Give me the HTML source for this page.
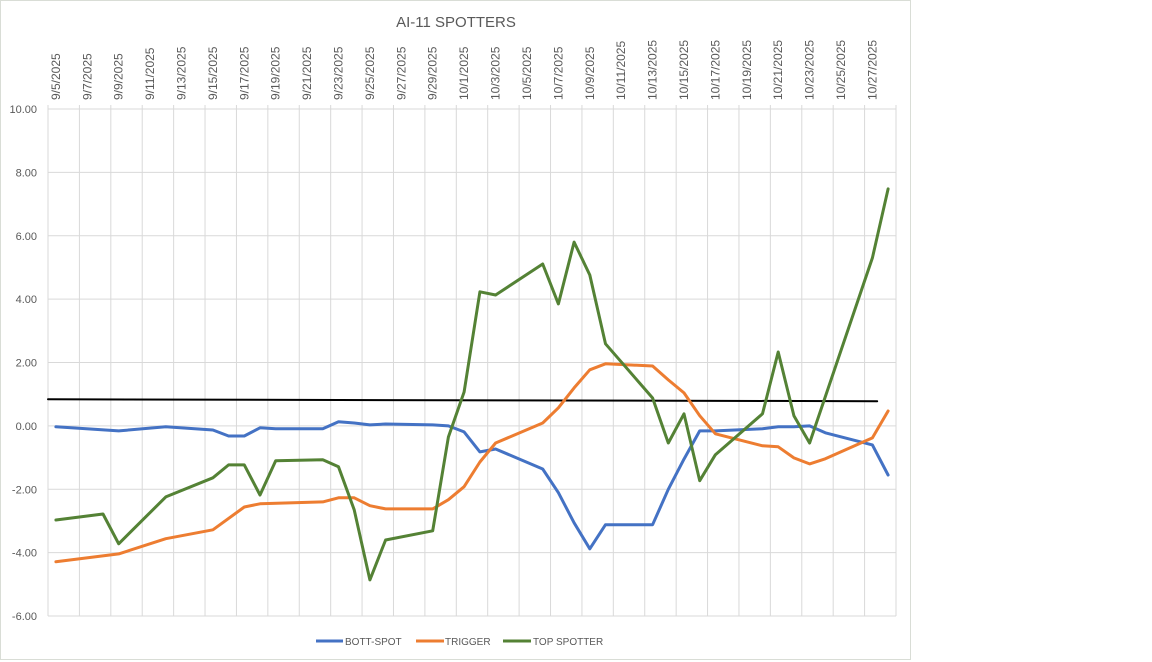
<!DOCTYPE html>
<html><head><meta charset="utf-8"><style>
html,body{margin:0;padding:0;background:#fff;}
svg{display:block;font-family:"Liberation Sans",sans-serif;}
</style></head><body>
<svg id="c" width="1152" height="662">
<rect x="0.5" y="0.5" width="910" height="659" fill="#fff" stroke="#d9ddd6"/>
<text x="456" y="27" font-size="15" text-anchor="middle" fill="#595959">AI-11 SPOTTERS</text>
<g id="grid"></g>
<g id="yl"></g>
<g id="xl"></g>
<g id="series"></g>
<g>
<g><line x1="316" y1="641" x2="343" y2="641" stroke="#4472c4" stroke-width="3"/><text x="345" y="645" font-size="10" fill="#595959">BOTT-SPOT</text></g>
<g><line x1="416" y1="641" x2="444" y2="641" stroke="#ed7d31" stroke-width="3"/><text x="445" y="645" font-size="10" fill="#595959">TRIGGER</text></g>
<g><line x1="503" y1="641" x2="531" y2="641" stroke="#548235" stroke-width="3"/><text x="533" y="645" font-size="10" fill="#595959">TOP SPOTTER</text></g>
</g>
</svg>
<script>
const startDate = [2025, 9, 5];
const dayCount = 54;
const yTicks = [10, 8, 6, 4, 2, 0, -2, -4, -6];
const bottSpot = [[0,-0.03],[4,-0.16],[7,-0.03],[10,-0.13],[11,-0.32],[12,-0.32],[13,-0.06],[14,-0.09],[17,-0.09],[18,0.13],[19,0.09],[20,0.03],[21,0.06],[24,0.03],[25,0.0],[26,-0.19],[27,-0.82],[28,-0.73],[31,-1.36],[32,-2.11],[33,-3.06],[34,-3.88],[35,-3.12],[38,-3.12],[39,-2.0],[40,-1.05],[41,-0.16],[42,-0.16],[45,-0.09],[46,-0.03],[47,-0.03],[48,0.0],[49,-0.22],[52,-0.6],[53,-1.55]];
const trigger = [[0,-4.29],[4,-4.04],[7,-3.56],[10,-3.28],[12,-2.56],[13,-2.46],[17,-2.4],[18,-2.27],[19,-2.27],[20,-2.52],[21,-2.62],[24,-2.62],[25,-2.33],[26,-1.92],[27,-1.14],[28,-0.54],[31,0.09],[32,0.57],[33,1.2],[34,1.77],[35,1.96],[38,1.89],[39,1.45],[40,1.04],[41,0.32],[42,-0.25],[45,-0.63],[46,-0.66],[47,-1.01],[48,-1.2],[49,-1.04],[52,-0.38],[53,0.47]];
const topSpotter = [[0,-2.97],[3,-2.78],[4,-3.72],[7,-2.24],[10,-1.64],[11,-1.23],[12,-1.23],[13,-2.18],[14,-1.1],[17,-1.07],[18,-1.29],[19,-2.65],[20,-4.86],[21,-3.6],[24,-3.31],[25,-0.35],[26,1.07],[27,4.23],[28,4.13],[31,5.11],[32,3.85],[33,5.8],[34,4.76],[35,2.59],[38,0.88],[39,-0.54],[40,0.38],[41,-1.73],[42,-0.91],[45,0.38],[46,2.33],[47,0.32],[48,-0.54],[52,5.3],[53,7.48]];
const refLine = [[-0.5,0.84],[52.3,0.78]];

const NS='http://www.w3.org/2000/svg';
const L=48,R=896,T=109,B=616,yMin=-6,yMax=10;
const step=(R-L)/dayCount;
const xs=i=>L+(i+0.5)*step;
const ys=v=>T+(yMax-v)/(yMax-yMin)*(B-T);
function mk(t,a,p){const e=document.createElementNS(NS,t);for(const k in a)e.setAttribute(k,a[k]);p.appendChild(e);return e;}
const grid=document.getElementById('grid');
yTicks.forEach(v=>{
  const l=mk('line',{x1:L,x2:R,y1:ys(v),y2:ys(v),stroke:'#d9d9d9','stroke-width':1},grid);
  
  
  const t=mk('text',{x:37,y:ys(v)+4,'font-size':11,'text-anchor':'end',fill:'#595959'},document.getElementById('yl'));
  t.textContent=v.toFixed(2);
  
  
});
for(let k=0;k<=dayCount;k+=2){
  const x=L+k*step;
  const l=mk('line',{x1:x,x2:x,y1:T-4,y2:B,stroke:'#d9d9d9','stroke-width':1},grid);
  
  
}
for(let i=0;i<dayCount;i+=2){
  const d=new Date(startDate[0],startDate[1]-1,startDate[2]+i);
  const lbl=(d.getMonth()+1)+'/'+d.getDate()+'/'+d.getFullYear();
  const x=xs(i)+4, y=100;
  const t=mk('text',{x:x,y:y,'font-size':12,fill:'#595959',transform:`rotate(-90 ${x} ${y})`},document.getElementById('xl'));
  t.textContent=lbl;
  
  
}
const sg=document.getElementById('series');
function line(data,color,name,w){
  const p=mk('polyline',{points:data.map(d=>xs(d[0]).toFixed(1)+','+ys(d[1]).toFixed(1)).join(' '),fill:'none',stroke:color,'stroke-width':w,'stroke-linejoin':'round','stroke-linecap':'round'},sg);
  
  
}
line(refLine,'#000','reference-line',2);
line(bottSpot,'#4472c4','bott-spot-line',3);
line(trigger,'#ed7d31','trigger-line',3);
line(topSpotter,'#548235','top-spotter-line',3);
</script>
</body></html>
